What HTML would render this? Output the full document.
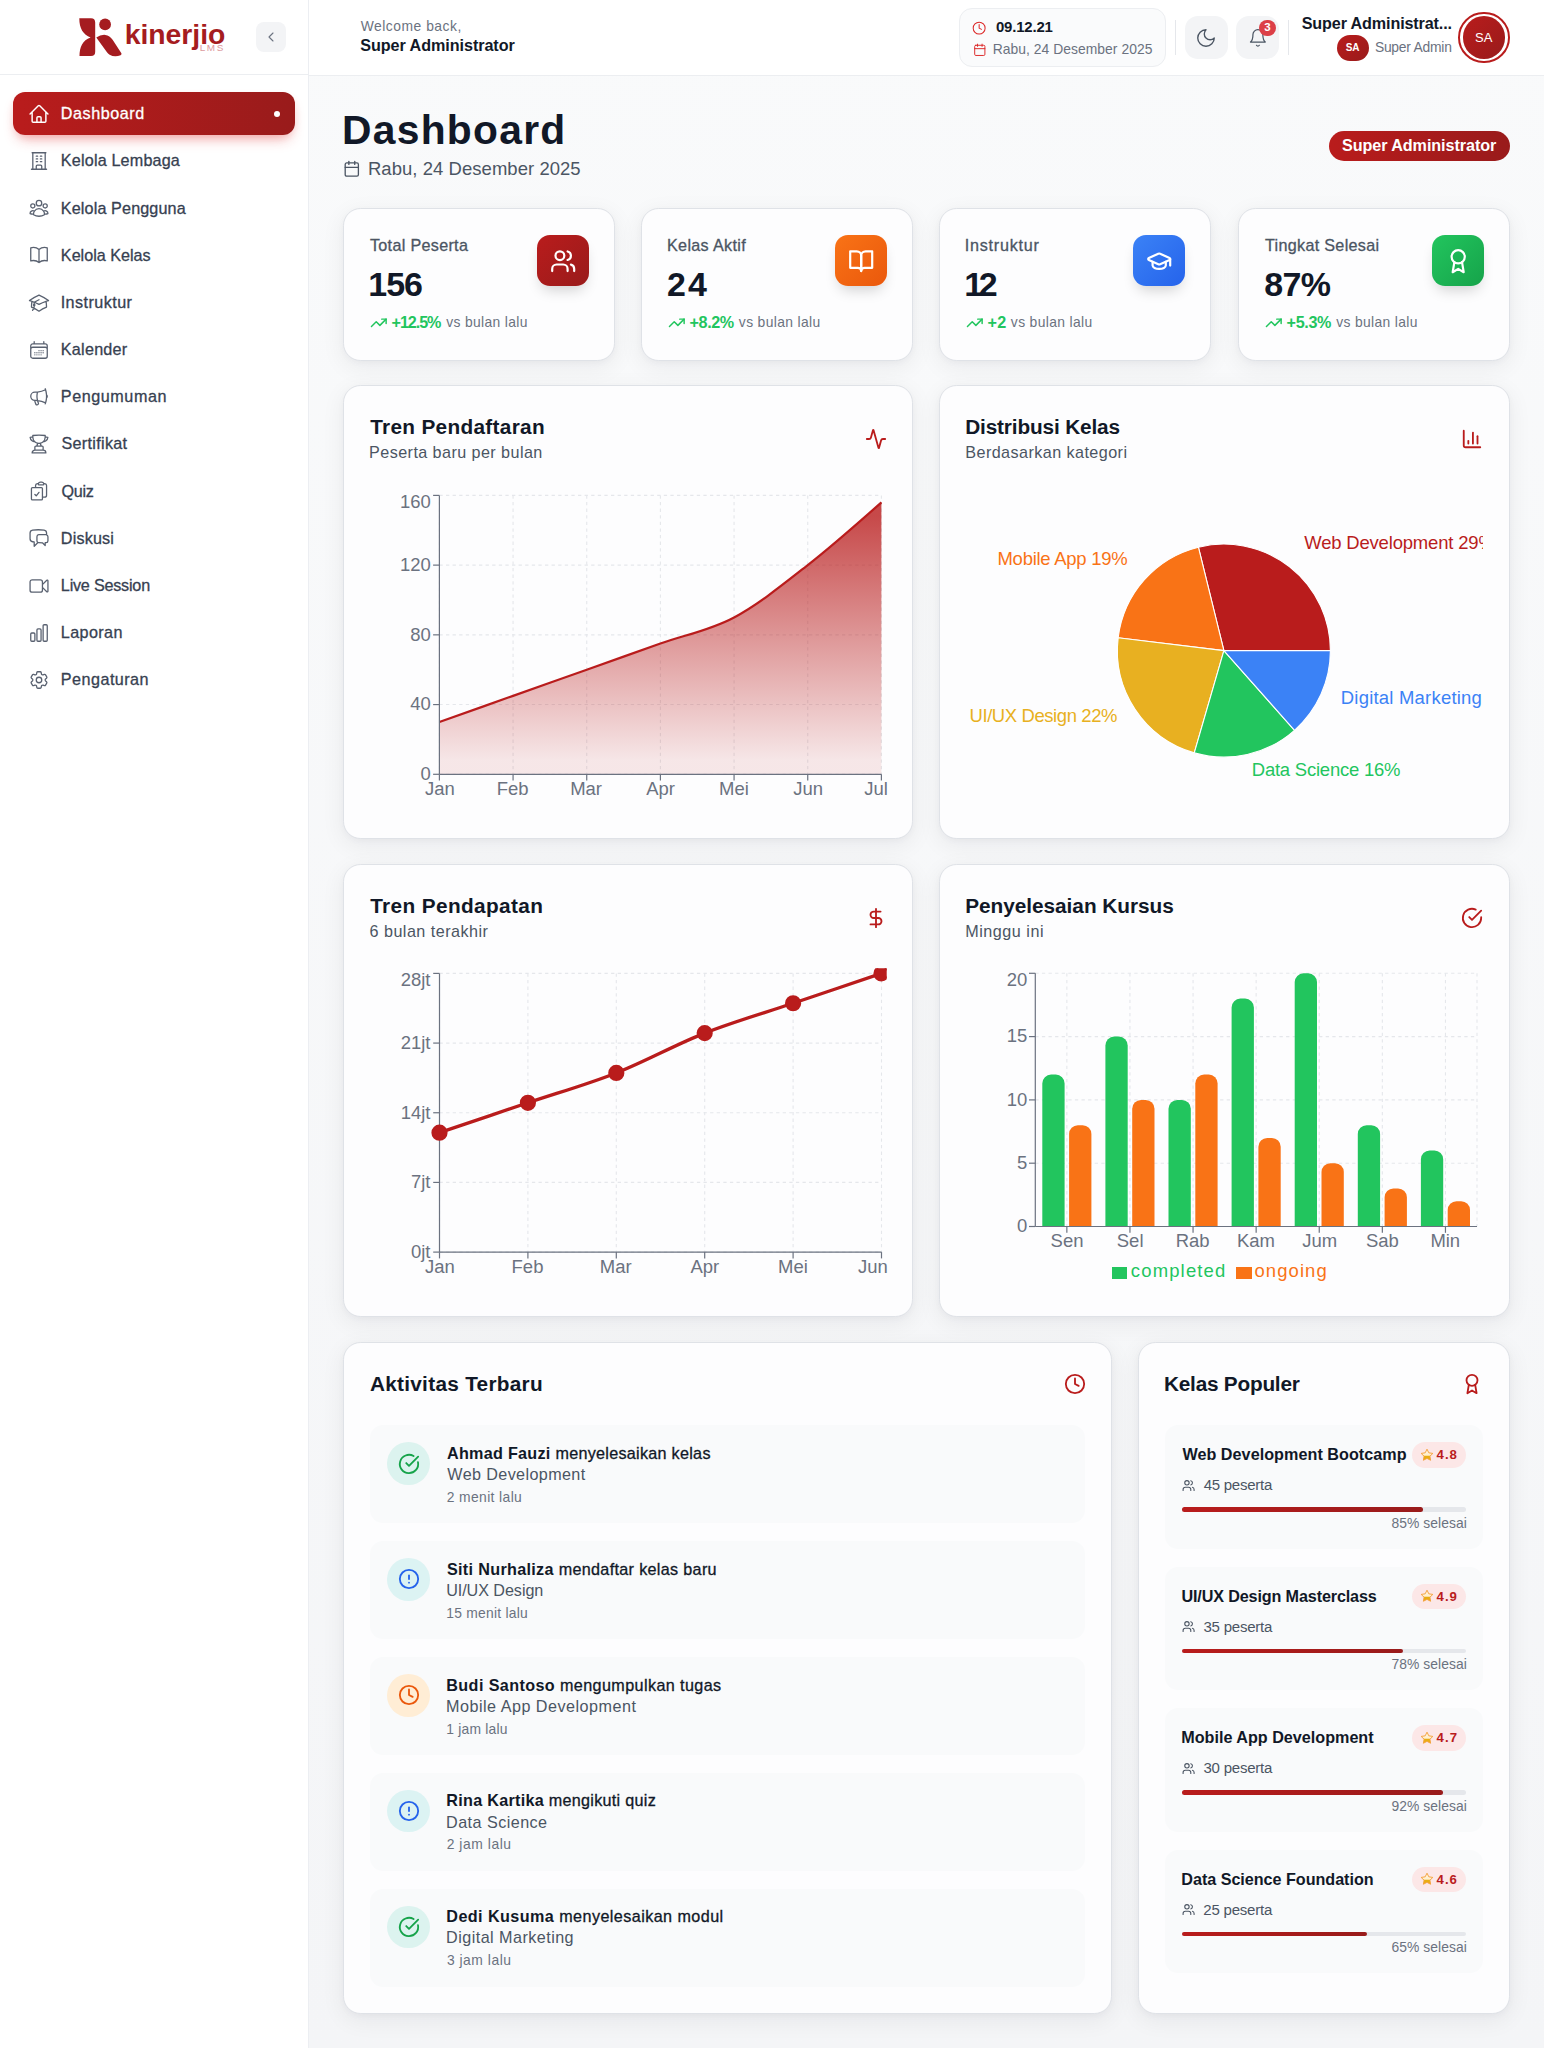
<!DOCTYPE html><html><head><meta charset="utf-8"><title>Dashboard</title><style>*{margin:0;padding:0}
html,body{width:1544px;height:2048px;overflow:hidden;background:linear-gradient(180deg,#f9fafb,#f4f5f7);font-family:"Liberation Sans",sans-serif}
.t{position:absolute;white-space:nowrap;line-height:1}
.r{position:absolute}
.ic{position:absolute;overflow:visible}
svg.ch{position:absolute;left:0;top:0;overflow:visible}
</style></head><body><div class="r" style="left:0.00px;top:0.00px;width:308.00px;height:2048.00px;background:#fff;border-right:1px solid #eceef2;"></div>
<div class="r" style="left:0.00px;top:74.00px;width:308.00px;height:1.00px;background:#eceef1;"></div>
<svg class="ic" style="left:78px;top:16px" width="46" height="42" viewBox="0 0 46 42">
<path fill="#a51c20" d="M1.3 2.2 L13 2.2 Q17.2 2.2 17.2 6.5 L17.2 35.8 Q17.2 40.1 13 40.1 L1.5 40.1 C1.6 31 4.5 24.3 12.6 21.4 C5.2 18.6 1.3 12.5 1.3 2.2 Z"/>
<circle fill="#a51c20" cx="27.1" cy="8.4" r="5.9"/>
<path fill="#a51c20" d="M18.3 21.6 Q22.5 18.5 27.3 18.9 Q31.8 19.5 34.6 23.8 L43.4 37.2 Q44 38.3 42.6 39.3 Q36.6 41.6 31.6 38.8 Q30 37.8 28.6 35.8 Z"/>
</svg>
<div class="t" style="left:124.72px;top:19.93px;font-size:28.35px;font-weight:700;color:#a51c20;letter-spacing:-0.034px;">kinerjio</div>
<div class="t" style="left:199.68px;top:42.68px;font-size:9.97px;font-weight:400;color:#dc9a9d;letter-spacing:1.629px;">LMS</div>
<div class="r" style="left:256.00px;top:22.00px;width:29.80px;height:29.80px;background:#f3f4f6;border-radius:8px;"></div>
<svg class="ic" style="left:262.90px;top:28.90px" width="16.00" height="16.00" viewBox="0 0 24 24" fill="none" stroke="#6b7280" stroke-width="1.6" stroke-linecap="round" stroke-linejoin="round"><path d="m15 18-6-6 6-6"/></svg>
<div class="r" style="left:13.00px;top:92.00px;width:282.00px;height:42.50px;background:linear-gradient(90deg,#b91c1c,#991b1b);border-radius:12px;box-shadow:0 8px 14px -5px rgba(220,38,38,0.40),0 3px 8px -2px rgba(220,38,38,0.12);"></div>
<svg class="ic" style="left:27.50px;top:102.90px" width="22.00" height="22.00" viewBox="0 0 24 24" fill="none" stroke="#fff" stroke-width="1.6" stroke-linecap="round" stroke-linejoin="round"><path d="M2.25 12l8.954-8.955c.44-.439 1.152-.439 1.591 0L21.75 12M4.5 9.75v10.125c0 .621.504 1.125 1.125 1.125H9.75v-4.875c0-.621.504-1.125 1.125-1.125h2.25c.621 0 1.125.504 1.125 1.125V21h4.125c.621 0 1.125-.504 1.125-1.125V9.75M8.25 21h8.25"/></svg>
<div class="t" style="left:60.87px;top:105.30px;font-size:16.17px;font-weight:400;color:#fff;letter-spacing:0.534px;-webkit-text-stroke:0.3px currentColor;">Dashboard</div>
<div class="r" style="left:273.50px;top:110.70px;width:6.00px;height:6.00px;background:#fff;border-radius:50%;"></div>
<svg class="ic" style="left:27.50px;top:150.07px" width="22.00" height="22.00" viewBox="0 0 24 24" fill="none" stroke="#596170" stroke-width="1.4" stroke-linecap="round" stroke-linejoin="round"><path d="M3.75 21h16.5M4.5 3h15M5.25 3v18m13.5-18v18M9 6.75h1.5m-1.5 3h1.5m-1.5 3h1.5m3-6H15m-1.5 3H15m-1.5 3H15M9 21v-3.375c0-.621.504-1.125 1.125-1.125h3.75c.621 0 1.125.504 1.125 1.125V21"/></svg>
<div class="t" style="left:60.87px;top:152.47px;font-size:16.17px;font-weight:400;color:#374151;letter-spacing:0.171px;-webkit-text-stroke:0.3px currentColor;">Kelola Lembaga</div>
<svg class="ic" style="left:27.50px;top:197.24px" width="22.00" height="22.00" viewBox="0 0 24 24" fill="none" stroke="#596170" stroke-width="1.4" stroke-linecap="round" stroke-linejoin="round"><path d="M18 18.72a9.094 9.094 0 003.741-.479 3 3 0 00-4.682-2.72m.94 3.198l.001.031c0 .225-.012.447-.037.666A11.944 11.944 0 0112 21c-2.17 0-4.207-.576-5.963-1.584A6.062 6.062 0 016 18.719m12 0a5.971 5.971 0 00-.941-3.197m0 0A5.995 5.995 0 0012 12.75a5.995 5.995 0 00-5.058 2.772m0 0a3 3 0 00-4.681 2.72 8.986 8.986 0 003.74.477m.94-3.197a5.971 5.971 0 00-.94 3.197M15 6.75a3 3 0 11-6 0 3 3 0 016 0zm6 3a2.25 2.25 0 11-4.5 0 2.25 2.25 0 014.5 0zm-13.5 0a2.25 2.25 0 11-4.5 0 2.25 2.25 0 014.5 0z"/></svg>
<div class="t" style="left:60.87px;top:199.64px;font-size:16.17px;font-weight:400;color:#374151;letter-spacing:0.123px;-webkit-text-stroke:0.3px currentColor;">Kelola Pengguna</div>
<svg class="ic" style="left:27.50px;top:244.41px" width="22.00" height="22.00" viewBox="0 0 24 24" fill="none" stroke="#596170" stroke-width="1.4" stroke-linecap="round" stroke-linejoin="round"><path d="M12 6.042A8.967 8.967 0 006 3.75c-1.052 0-2.062.18-3 .512v14.25A8.987 8.987 0 016 18c2.305 0 4.408.867 6 2.292m0-14.25a8.966 8.966 0 016-2.292c1.052 0 2.062.18 3 .512v14.25A8.987 8.987 0 0018 18a8.967 8.967 0 00-6 2.292m0-14.25v14.25"/></svg>
<div class="t" style="left:60.87px;top:246.81px;font-size:16.17px;font-weight:400;color:#374151;letter-spacing:-0.000px;-webkit-text-stroke:0.3px currentColor;">Kelola Kelas</div>
<svg class="ic" style="left:27.50px;top:291.58px" width="22.00" height="22.00" viewBox="0 0 24 24" fill="none" stroke="#596170" stroke-width="1.4" stroke-linecap="round" stroke-linejoin="round"><path d="M4.26 10.147a60.436 60.436 0 00-.491 6.347A48.627 48.627 0 0112 20.904a48.627 48.627 0 018.232-4.41 60.46 60.46 0 00-.491-6.347m-15.482 0a50.57 50.57 0 00-2.658-.813A59.905 59.905 0 0112 3.493a59.902 59.902 0 0110.399 5.84c-.896.248-1.783.52-2.658.814m-15.482 0A50.697 50.697 0 0112 13.489a50.702 50.702 0 017.74-3.342M6.75 15a.75.75 0 100-1.5.75.75 0 000 1.5zm0 0v-3.675A55.378 55.378 0 0112 8.443m-7.007 11.55A5.981 5.981 0 006.75 15.75v-1.5"/></svg>
<div class="t" style="left:60.70px;top:293.98px;font-size:16.17px;font-weight:400;color:#374151;letter-spacing:0.439px;-webkit-text-stroke:0.3px currentColor;">Instruktur</div>
<svg class="ic" style="left:27.50px;top:338.75px" width="22.00" height="22.00" viewBox="0 0 24 24" fill="none" stroke="#596170" stroke-width="1.4" stroke-linecap="round" stroke-linejoin="round"><path d="M6.75 3v2.25M17.25 3v2.25M3 18.75V7.5a2.25 2.25 0 012.25-2.25h13.5A2.25 2.25 0 0121 7.5v11.25m-18 0A2.25 2.25 0 005.25 21h13.5A2.25 2.25 0 0021 18.75m-18 0v-7.5A2.25 2.25 0 015.25 9h13.5A2.25 2.25 0 0121 11.25v7.5m-9-6h.008v.008H12v-.008zM12 15h.008v.008H12V15zm0 2.25h.008v.008H12v-.008zM9.75 15h.008v.008H9.75V15zm0 2.25h.008v.008H9.75v-.008zM7.5 15h.008v.008H7.5V15zm0 2.25h.008v.008H7.5v-.008zm6.75-4.5h.008v.008h-.008v-.008zm0 2.25h.008v.008h-.008V15zm0 2.25h.008v.008h-.008v-.008zm2.25-4.5h.008v.008H16.5v-.008zm0 2.25h.008v.008H16.5V15z"/></svg>
<div class="t" style="left:60.87px;top:341.15px;font-size:16.17px;font-weight:400;color:#374151;letter-spacing:0.237px;-webkit-text-stroke:0.3px currentColor;">Kalender</div>
<svg class="ic" style="left:27.50px;top:385.92px" width="22.00" height="22.00" viewBox="0 0 24 24" fill="none" stroke="#596170" stroke-width="1.4" stroke-linecap="round" stroke-linejoin="round"><path d="M10.34 15.84c-.688-.06-1.386-.09-2.09-.09H7.5a4.5 4.5 0 110-9h.75c.704 0 1.402-.03 2.09-.09m0 9.18c.253.962.584 1.892.985 2.783.247.55.06 1.21-.463 1.511l-.657.38c-.551.318-1.26.117-1.527-.461a20.845 20.845 0 01-1.44-4.282m3.102.069a18.03 18.03 0 01-.59-4.59c0-1.586.205-3.124.59-4.59m0 9.18a23.848 23.848 0 018.835 2.535M10.34 6.66a23.847 23.847 0 008.835-2.535m0 0A23.74 23.74 0 0018.795 3m.38 1.125a23.91 23.91 0 011.014 5.395m-1.014 8.855c-.118.38-.245.754-.38 1.125m.38-1.125a23.91 23.91 0 001.014-5.395m0-3.46c.495.413.811 1.035.811 1.73 0 .695-.316 1.317-.811 1.73m0-3.46a24.347 24.347 0 010 3.46"/></svg>
<div class="t" style="left:60.87px;top:388.32px;font-size:16.17px;font-weight:400;color:#374151;letter-spacing:0.554px;-webkit-text-stroke:0.3px currentColor;">Pengumuman</div>
<svg class="ic" style="left:27.50px;top:433.09px" width="22.00" height="22.00" viewBox="0 0 24 24" fill="none" stroke="#596170" stroke-width="1.4" stroke-linecap="round" stroke-linejoin="round"><path d="M16.5 18.75h-9m9 0a3 3 0 013 3h-15a3 3 0 013-3m9 0v-3.375c0-.621-.503-1.125-1.125-1.125h-.871M7.5 18.75v-3.375c0-.621.504-1.125 1.125-1.125h.872m5.007 0H9.497m5.007 0a7.454 7.454 0 01-.982-3.172M9.497 14.25a7.454 7.454 0 00.981-3.172M5.25 4.236c-.982.143-1.954.317-2.916.52A6.003 6.003 0 007.73 9.728M5.25 4.236V4.5c0 2.108.966 3.99 2.48 5.228M5.25 4.236V2.721C7.456 2.41 9.71 2.25 12 2.25c2.291 0 4.545.16 6.75.47v1.516M7.73 9.728a6.726 6.726 0 002.748 1.35m8.272-6.842V4.5c0 2.108-.966 3.99-2.48 5.228m2.48-5.492a46.32 46.32 0 012.916.52 6.003 6.003 0 01-5.395 4.972m0 0a6.726 6.726 0 01-2.749 1.35m0 0a6.772 6.772 0 01-3.044 0"/></svg>
<div class="t" style="left:61.47px;top:435.49px;font-size:16.17px;font-weight:400;color:#374151;letter-spacing:0.305px;-webkit-text-stroke:0.3px currentColor;">Sertifikat</div>
<svg class="ic" style="left:27.50px;top:480.26px" width="22.00" height="22.00" viewBox="0 0 24 24" fill="none" stroke="#596170" stroke-width="1.4" stroke-linecap="round" stroke-linejoin="round"><path d="M11.35 3.836c-.065.21-.1.433-.1.664 0 .414.336.75.75.75h4.5a.75.75 0 00.75-.75 2.25 2.25 0 00-.1-.664m-5.8 0A2.251 2.251 0 0113.5 2.25H15c1.012 0 1.867.668 2.15 1.586m-5.8 0c-.376.023-.75.05-1.124.08C9.095 4.01 8.25 4.973 8.25 6.108V8.25m8.9-4.414c.376.023.75.05 1.124.08 1.131.094 1.976 1.057 1.976 2.192V16.5A2.25 2.25 0 0118 18.75h-2.25m-7.5-10.5H4.875c-.621 0-1.125.504-1.125 1.125v11.25c0 .621.504 1.125 1.125 1.125h9.75c.621 0 1.125-.504 1.125-1.125V18.75m-7.5-10.5h6.375c.621 0 1.125.504 1.125 1.125v9.375m-8.25-3l1.5 1.5 3-3.75"/></svg>
<div class="t" style="left:61.43px;top:482.66px;font-size:16.17px;font-weight:400;color:#374151;letter-spacing:-0.284px;-webkit-text-stroke:0.3px currentColor;">Quiz</div>
<svg class="ic" style="left:27.50px;top:527.43px" width="22.00" height="22.00" viewBox="0 0 24 24" fill="none" stroke="#596170" stroke-width="1.4" stroke-linecap="round" stroke-linejoin="round"><path d="M20.25 8.511c.884.284 1.5 1.128 1.5 2.097v4.286c0 1.136-.847 2.1-1.98 2.193-.34.027-.68.052-1.02.072v3.091l-3-3c-1.354 0-2.694-.055-4.02-.163a2.115 2.115 0 01-.825-.242m9.345-8.334a2.126 2.126 0 00-.476-.095 48.64 48.64 0 00-8.048 0c-1.131.094-1.976 1.057-1.976 2.192v4.286c0 .837.46 1.58 1.155 1.951m9.345-8.334V6.637c0-1.621-1.152-3.026-2.76-3.235A48.455 48.455 0 0011.25 3c-2.115 0-4.198.137-6.24.402-1.608.209-2.76 1.614-2.76 3.235v6.226c0 1.621 1.152 3.026 2.76 3.235.577.075 1.157.14 1.74.194V21l4.155-4.155"/></svg>
<div class="t" style="left:60.87px;top:529.83px;font-size:16.17px;font-weight:400;color:#374151;letter-spacing:0.153px;-webkit-text-stroke:0.3px currentColor;">Diskusi</div>
<svg class="ic" style="left:27.50px;top:574.60px" width="22.00" height="22.00" viewBox="0 0 24 24" fill="none" stroke="#596170" stroke-width="1.4" stroke-linecap="round" stroke-linejoin="round"><path d="M15.75 10.5l4.72-4.72a.75.75 0 011.28.53v11.38a.75.75 0 01-1.28.53l-4.72-4.72M4.5 18.75h9a2.25 2.25 0 002.25-2.25v-9a2.25 2.25 0 00-2.25-2.25h-9A2.25 2.25 0 002.25 7.5v9a2.25 2.25 0 002.25 2.25z"/></svg>
<div class="t" style="left:60.87px;top:577.00px;font-size:16.17px;font-weight:400;color:#374151;letter-spacing:-0.213px;-webkit-text-stroke:0.3px currentColor;">Live Session</div>
<svg class="ic" style="left:27.50px;top:621.77px" width="22.00" height="22.00" viewBox="0 0 24 24" fill="none" stroke="#596170" stroke-width="1.4" stroke-linecap="round" stroke-linejoin="round"><path d="M3 13.125C3 12.504 3.504 12 4.125 12h2.25c.621 0 1.125.504 1.125 1.125v6.75C7.5 20.496 6.996 21 6.375 21h-2.25A1.125 1.125 0 013 19.875v-6.75zM9.75 8.625c0-.621.504-1.125 1.125-1.125h2.25c.621 0 1.125.504 1.125 1.125v11.25c0 .621-.504 1.125-1.125 1.125h-2.25a1.125 1.125 0 01-1.125-1.125V8.625zM16.5 4.125c0-.621.504-1.125 1.125-1.125h2.25C20.496 3 21 3.504 21 4.125v15.75c0 .621-.504 1.125-1.125 1.125h-2.25a1.125 1.125 0 01-1.125-1.125V4.125z"/></svg>
<div class="t" style="left:60.87px;top:624.17px;font-size:16.17px;font-weight:400;color:#374151;letter-spacing:0.383px;-webkit-text-stroke:0.3px currentColor;">Laporan</div>
<svg class="ic" style="left:27.50px;top:668.94px" width="22.00" height="22.00" viewBox="0 0 24 24" fill="none" stroke="#596170" stroke-width="1.4" stroke-linecap="round" stroke-linejoin="round"><path d="M9.594 3.94c.09-.542.56-.94 1.11-.94h2.593c.55 0 1.02.398 1.11.94l.213 1.281c.063.374.313.686.645.87.074.04.147.083.22.127.324.196.72.257 1.075.124l1.217-.456a1.125 1.125 0 011.37.49l1.296 2.247a1.125 1.125 0 01-.26 1.431l-1.003.827c-.293.24-.438.613-.431.992a6.759 6.759 0 010 .255c-.007.378.138.75.43.99l1.005.828c.424.35.534.954.26 1.43l-1.298 2.247a1.125 1.125 0 01-1.369.491l-1.217-.456c-.355-.133-.75-.072-1.076.124a6.57 6.57 0 01-.22.128c-.331.183-.581.495-.644.869l-.213 1.28c-.09.543-.56.941-1.11.941h-2.594c-.55 0-1.02-.398-1.11-.94l-.213-1.281c-.062-.374-.312-.686-.644-.87a6.52 6.52 0 01-.22-.127c-.325-.196-.72-.257-1.076-.124l-1.217.456a1.125 1.125 0 01-1.369-.49l-1.297-2.247a1.125 1.125 0 01.26-1.431l1.004-.827c.292-.24.437-.613.43-.992a6.932 6.932 0 010-.255c.007-.378-.138-.75-.43-.99l-1.004-.828a1.125 1.125 0 01-.26-1.43l1.297-2.247a1.125 1.125 0 011.37-.491l1.216.456c.356.133.751.072 1.076-.124.072-.044.146-.087.22-.128.332-.183.582-.495.644-.869l.214-1.281z"/><path d="M15 12a3 3 0 11-6 0 3 3 0 016 0z"/></svg>
<div class="t" style="left:60.87px;top:671.34px;font-size:16.17px;font-weight:400;color:#374151;letter-spacing:0.461px;-webkit-text-stroke:0.3px currentColor;">Pengaturan</div>
<div class="r" style="left:309.00px;top:0.00px;width:1235.00px;height:75.00px;background:#fff;"></div>
<div class="r" style="left:309.00px;top:75.00px;width:1235.00px;height:1.00px;background:#eceef1;"></div>
<div class="t" style="left:360.63px;top:20.23px;font-size:13.86px;font-weight:400;color:#6b7280;letter-spacing:0.519px;">Welcome back,</div>
<div class="t" style="left:360.26px;top:37.30px;font-size:16.17px;font-weight:700;color:#111827;letter-spacing:-0.059px;">Super Administrator</div>
<div class="r" style="left:958.60px;top:7.90px;width:207.90px;height:59.40px;background:#fafbfc;border:1px solid #eceef1;border-radius:13px;box-sizing:border-box;"></div>
<svg class="ic" style="left:972.15px;top:20.85px" width="14.30" height="14.30" viewBox="0 0 24 24" fill="none" stroke="#dc2626" stroke-width="1.7" stroke-linecap="round" stroke-linejoin="round"><circle cx="12" cy="12" r="10"/><polyline points="12 6 12 12 16 14"/></svg>
<div class="t" style="left:995.90px;top:20.43px;font-size:14.94px;font-weight:700;color:#111827;letter-spacing:-0.169px;">09.12.21</div>
<svg class="ic" style="left:972.50px;top:42.70px" width="13.60" height="13.60" viewBox="0 0 24 24" fill="none" stroke="#dc2626" stroke-width="1.7" stroke-linecap="round" stroke-linejoin="round"><rect width="18" height="18" x="3" y="4" rx="2" ry="2"/><line x1="16" x2="16" y1="2" y2="6"/><line x1="8" x2="8" y1="2" y2="6"/><line x1="3" x2="21" y1="10" y2="10"/></svg>
<div class="t" style="left:992.66px;top:42.83px;font-size:13.86px;font-weight:400;color:#6b7280;letter-spacing:0.048px;">Rabu, 24 Desember 2025</div>
<div class="r" style="left:1175.10px;top:20.00px;width:1.00px;height:34.50px;background:#e5e7eb;"></div>
<div class="r" style="left:1185.00px;top:15.90px;width:42.80px;height:43.10px;background:#f3f4f6;border-radius:13px;"></div>
<svg class="ic" style="left:1195.40px;top:26.50px" width="22.00" height="22.00" viewBox="0 0 24 24" fill="none" stroke="#4b5563" stroke-width="1.5" stroke-linecap="round" stroke-linejoin="round"><path d="M12 3a6 6 0 0 0 9 9 9 9 0 1 1-9-9Z"/></svg>
<div class="r" style="left:1236.20px;top:15.90px;width:42.80px;height:43.10px;background:#f3f4f6;border-radius:13px;"></div>
<svg class="ic" style="left:1247.70px;top:27.60px" width="19.80" height="19.80" viewBox="0 0 24 24" fill="none" stroke="#4b5563" stroke-width="1.5" stroke-linecap="round" stroke-linejoin="round"><path d="M6 8a6 6 0 0 1 12 0c0 7 3 9 3 9H3s3-2 3-9"/><path d="M10.3 21a1.94 1.94 0 0 0 3.4 0"/></svg>
<div class="r" style="left:1259.30px;top:19.50px;width:16.50px;height:16.50px;background:#dc3f47;border-radius:50%;"></div>
<div class="t" style="left:1264.37px;top:22.36px;font-size:11.55px;font-weight:700;color:#fff;letter-spacing:0.000px;">3</div>
<div class="r" style="left:1288.00px;top:20.00px;width:1.00px;height:34.50px;background:#e5e7eb;"></div>
<div class="t" style="left:1301.66px;top:15.10px;font-size:16.17px;font-weight:700;color:#111827;letter-spacing:-0.132px;">Super Administrat...</div>
<div class="r" style="left:1337.10px;top:35.30px;width:31.70px;height:25.40px;background:linear-gradient(135deg,#b91c1c,#991b1b);border-radius:13px;"></div>
<div class="t" style="left:1345.65px;top:43.45px;font-size:10.0px;font-weight:700;color:#fff;letter-spacing:0.000px;">SA</div>
<div class="t" style="left:1374.88px;top:41.23px;font-size:13.86px;font-weight:400;color:#6b7280;letter-spacing:-0.236px;">Super Admin</div>
<div class="r" style="left:1458.30px;top:12.00px;width:51.30px;height:51.30px;border:2.4px solid #b91c1c;border-radius:50%;box-sizing:border-box;background:#fff;"></div>
<div class="r" style="left:1462.60px;top:16.30px;width:42.70px;height:42.70px;background:linear-gradient(135deg,#b91c1c,#991b1b);border-radius:50%;"></div>
<div class="t" style="left:1475.05px;top:31.44px;font-size:13.0px;font-weight:400;color:#fff;letter-spacing:0.000px;">SA</div>
<div class="t" style="left:342.05px;top:110.04px;font-size:40.79px;font-weight:700;color:#111827;letter-spacing:1.272px;">Dashboard</div>
<svg class="ic" style="left:342.80px;top:160.20px" width="17.60" height="17.60" viewBox="0 0 24 24" fill="none" stroke="#4b5563" stroke-width="1.8" stroke-linecap="round" stroke-linejoin="round"><rect width="18" height="18" x="3" y="4" rx="2" ry="2"/><line x1="16" x2="16" y1="2" y2="6"/><line x1="8" x2="8" y1="2" y2="6"/><line x1="3" x2="21" y1="10" y2="10"/></svg>
<div class="t" style="left:367.98px;top:160.27px;font-size:18.48px;font-weight:400;color:#4b5563;letter-spacing:0.056px;">Rabu, 24 Desember 2025</div>
<div class="r" style="left:1329.00px;top:131.10px;width:180.60px;height:29.60px;background:linear-gradient(90deg,#b91c1c,#991b1b);border-radius:15px;"></div>
<div class="t" style="left:1341.96px;top:137.40px;font-size:16.17px;font-weight:700;color:#fff;letter-spacing:-0.071px;">Super Administrator</div>
<div class="r" style="left:343.00px;top:208.00px;width:272.00px;height:153.00px;background:#fdfdfe;border:1px solid #dfe2e7;border-radius:17.6px;box-shadow:0 6px 22px 2px rgba(17,24,39,0.055),0 2px 6px rgba(17,24,39,0.03);box-sizing:border-box;"></div>
<div class="t" style="left:369.94px;top:237.20px;font-size:16.17px;font-weight:400;color:#4b5563;letter-spacing:0.306px;-webkit-text-stroke:0.3px currentColor;">Total Peserta</div>
<div class="t" style="left:368.18px;top:266.72px;font-size:33.99px;font-weight:700;color:#111827;letter-spacing:-0.932px;">156</div>
<svg class="ic" style="left:369.50px;top:313.50px" width="17.60" height="17.60" viewBox="0 0 24 24" fill="none" stroke="#22c55e" stroke-width="2" stroke-linecap="round" stroke-linejoin="round"><polyline points="22 7 13.5 15.5 8.5 10.5 2 17"/><polyline points="16 7 22 7 22 13"/></svg>
<div class="t" style="left:391.61px;top:314.20px;font-size:16.17px;font-weight:700;color:#22c55e;letter-spacing:-1.094px;">+12.5%</div>
<div class="t" style="left:446.17px;top:316.13px;font-size:13.86px;font-weight:400;color:#6b7280;letter-spacing:0.359px;">vs bulan lalu</div>
<div class="r" style="left:537.30px;top:235.10px;width:51.30px;height:51.30px;background:linear-gradient(135deg,#b91c1c,#991b1b);border-radius:13px;box-shadow:0 8px 14px -4px rgba(0,0,0,0.18);"></div>
<svg class="ic" style="left:549.75px;top:247.55px" width="26.40" height="26.40" viewBox="0 0 24 24" fill="none" stroke="#fff" stroke-width="2" stroke-linecap="round" stroke-linejoin="round"><path d="M16 21v-2a4 4 0 0 0-4-4H6a4 4 0 0 0-4 4v2"/><circle cx="9" cy="7" r="4"/><path d="M22 21v-2a4 4 0 0 0-3-3.87"/><path d="M16 3.13a4 4 0 0 1 0 7.75"/></svg>
<div class="r" style="left:641.00px;top:208.00px;width:272.00px;height:153.00px;background:#fdfdfe;border:1px solid #dfe2e7;border-radius:17.6px;box-shadow:0 6px 22px 2px rgba(17,24,39,0.055),0 2px 6px rgba(17,24,39,0.03);box-sizing:border-box;"></div>
<div class="t" style="left:666.97px;top:237.20px;font-size:16.17px;font-weight:400;color:#4b5563;letter-spacing:0.328px;-webkit-text-stroke:0.3px currentColor;">Kelas Aktif</div>
<div class="t" style="left:667.11px;top:266.72px;font-size:33.99px;font-weight:700;color:#111827;letter-spacing:2.046px;">24</div>
<svg class="ic" style="left:667.50px;top:313.50px" width="17.60" height="17.60" viewBox="0 0 24 24" fill="none" stroke="#22c55e" stroke-width="2" stroke-linecap="round" stroke-linejoin="round"><polyline points="22 7 13.5 15.5 8.5 10.5 2 17"/><polyline points="16 7 22 7 22 13"/></svg>
<div class="t" style="left:689.61px;top:314.20px;font-size:16.17px;font-weight:700;color:#22c55e;letter-spacing:-0.449px;">+8.2%</div>
<div class="t" style="left:738.87px;top:316.13px;font-size:13.86px;font-weight:400;color:#6b7280;letter-spacing:0.351px;">vs bulan lalu</div>
<div class="r" style="left:835.30px;top:235.10px;width:51.30px;height:51.30px;background:linear-gradient(135deg,#f97316,#ea580c);border-radius:13px;box-shadow:0 8px 14px -4px rgba(0,0,0,0.18);"></div>
<svg class="ic" style="left:847.75px;top:247.55px" width="26.40" height="26.40" viewBox="0 0 24 24" fill="none" stroke="#fff" stroke-width="2" stroke-linecap="round" stroke-linejoin="round"><path d="M2 3h6a4 4 0 0 1 4 4v14a3 3 0 0 0-3-3H2z"/><path d="M22 3h-6a4 4 0 0 0-4 4v14a3 3 0 0 1 3-3h7z"/></svg>
<div class="r" style="left:939.00px;top:208.00px;width:272.00px;height:153.00px;background:#fdfdfe;border:1px solid #dfe2e7;border-radius:17.6px;box-shadow:0 6px 22px 2px rgba(17,24,39,0.055),0 2px 6px rgba(17,24,39,0.03);box-sizing:border-box;"></div>
<div class="t" style="left:964.80px;top:237.20px;font-size:16.17px;font-weight:400;color:#4b5563;letter-spacing:0.739px;-webkit-text-stroke:0.3px currentColor;">Instruktur</div>
<div class="t" style="left:964.18px;top:266.72px;font-size:33.99px;font-weight:700;color:#111827;letter-spacing:-4.430px;">12</div>
<svg class="ic" style="left:965.50px;top:313.50px" width="17.60" height="17.60" viewBox="0 0 24 24" fill="none" stroke="#22c55e" stroke-width="2" stroke-linecap="round" stroke-linejoin="round"><polyline points="22 7 13.5 15.5 8.5 10.5 2 17"/><polyline points="16 7 22 7 22 13"/></svg>
<div class="t" style="left:987.61px;top:314.20px;font-size:16.17px;font-weight:700;color:#22c55e;letter-spacing:0.260px;">+2</div>
<div class="t" style="left:1010.87px;top:316.13px;font-size:13.86px;font-weight:400;color:#6b7280;letter-spacing:0.351px;">vs bulan lalu</div>
<div class="r" style="left:1133.30px;top:235.10px;width:51.30px;height:51.30px;background:linear-gradient(135deg,#3b82f6,#2563eb);border-radius:13px;box-shadow:0 8px 14px -4px rgba(0,0,0,0.18);"></div>
<svg class="ic" style="left:1145.75px;top:247.55px" width="26.40" height="26.40" viewBox="0 0 24 24" fill="none" stroke="#fff" stroke-width="2" stroke-linecap="round" stroke-linejoin="round"><path d="M21.42 10.922a1 1 0 0 0-.019-1.838L12.83 5.18a2 2 0 0 0-1.66 0L2.6 9.08a1 1 0 0 0 0 1.832l8.57 3.908a2 2 0 0 0 1.66 0z"/><path d="M22 10v6"/><path d="M6 12.5V16a6 3 0 0 0 12 0v-3.5"/></svg>
<div class="r" style="left:1238.00px;top:208.00px;width:272.00px;height:153.00px;background:#fdfdfe;border:1px solid #dfe2e7;border-radius:17.6px;box-shadow:0 6px 22px 2px rgba(17,24,39,0.055),0 2px 6px rgba(17,24,39,0.03);box-sizing:border-box;"></div>
<div class="t" style="left:1264.94px;top:237.20px;font-size:16.17px;font-weight:400;color:#4b5563;letter-spacing:0.307px;-webkit-text-stroke:0.3px currentColor;">Tingkat Selesai</div>
<div class="t" style="left:1264.28px;top:266.72px;font-size:33.99px;font-weight:700;color:#111827;letter-spacing:-0.705px;">87%</div>
<svg class="ic" style="left:1264.50px;top:313.50px" width="17.60" height="17.60" viewBox="0 0 24 24" fill="none" stroke="#22c55e" stroke-width="2" stroke-linecap="round" stroke-linejoin="round"><polyline points="22 7 13.5 15.5 8.5 10.5 2 17"/><polyline points="16 7 22 7 22 13"/></svg>
<div class="t" style="left:1286.61px;top:314.20px;font-size:16.17px;font-weight:700;color:#22c55e;letter-spacing:-0.374px;">+5.3%</div>
<div class="t" style="left:1336.17px;top:316.13px;font-size:13.86px;font-weight:400;color:#6b7280;letter-spacing:0.351px;">vs bulan lalu</div>
<div class="r" style="left:1432.30px;top:235.10px;width:51.30px;height:51.30px;background:linear-gradient(135deg,#22c55e,#16a34a);border-radius:13px;box-shadow:0 8px 14px -4px rgba(0,0,0,0.18);"></div>
<svg class="ic" style="left:1444.75px;top:247.55px" width="26.40" height="26.40" viewBox="0 0 24 24" fill="none" stroke="#fff" stroke-width="2" stroke-linecap="round" stroke-linejoin="round"><circle cx="12" cy="8" r="6"/><path d="M15.477 12.89 17 22l-5-3-5 3 1.523-9.11"/></svg>
<div class="r" style="left:343.00px;top:385.00px;width:570.00px;height:454.00px;background:#fdfdfe;border:1px solid #dfe2e7;border-radius:17.6px;box-shadow:0 6px 22px 2px rgba(17,24,39,0.055),0 2px 6px rgba(17,24,39,0.03);box-sizing:border-box;"></div>
<div class="t" style="left:370.19px;top:417.14px;font-size:20.79px;font-weight:700;color:#111827;letter-spacing:0.310px;">Tren Pendaftaran</div>
<div class="t" style="left:369.07px;top:444.00px;font-size:16.17px;font-weight:400;color:#4b5563;letter-spacing:0.422px;">Peserta baru per bulan</div>
<svg class="ic" style="left:865.00px;top:427.50px" width="22.00" height="22.00" viewBox="0 0 24 24" fill="none" stroke="#b91c1c" stroke-width="2" stroke-linecap="round" stroke-linejoin="round"><path d="M22 12h-2.48a2 2 0 0 0-1.93 1.46l-2.35 8.36a.25.25 0 0 1-.48 0L9.24 2.18a.25.25 0 0 0-.48 0l-2.35 8.36A2 2 0 0 1 4.49 12H2"/></svg>
<div class="r" style="left:939.00px;top:385.00px;width:571.00px;height:454.00px;background:#fdfdfe;border:1px solid #dfe2e7;border-radius:17.6px;box-shadow:0 6px 22px 2px rgba(17,24,39,0.055),0 2px 6px rgba(17,24,39,0.03);box-sizing:border-box;"></div>
<div class="t" style="left:965.20px;top:417.14px;font-size:20.79px;font-weight:700;color:#111827;letter-spacing:-0.146px;">Distribusi Kelas</div>
<div class="t" style="left:965.27px;top:444.00px;font-size:16.17px;font-weight:400;color:#4b5563;letter-spacing:0.428px;">Berdasarkan kategori</div>
<svg class="ic" style="left:1461.00px;top:427.50px" width="22.00" height="22.00" viewBox="0 0 24 24" fill="none" stroke="#b91c1c" stroke-width="2" stroke-linecap="round" stroke-linejoin="round"><path d="M3 3v16a2 2 0 0 0 2 2h16"/><path d="M18 17V9"/><path d="M13 17V5"/><path d="M8 17v-3"/></svg>
<div class="r" style="left:343.00px;top:864.00px;width:570.00px;height:453.00px;background:#fdfdfe;border:1px solid #dfe2e7;border-radius:17.6px;box-shadow:0 6px 22px 2px rgba(17,24,39,0.055),0 2px 6px rgba(17,24,39,0.03);box-sizing:border-box;"></div>
<div class="t" style="left:370.19px;top:896.44px;font-size:20.79px;font-weight:700;color:#111827;letter-spacing:0.381px;">Tren Pendapatan</div>
<div class="t" style="left:369.59px;top:923.30px;font-size:16.17px;font-weight:400;color:#4b5563;letter-spacing:0.460px;">6 bulan terakhir</div>
<svg class="ic" style="left:865.00px;top:906.50px" width="22.00" height="22.00" viewBox="0 0 24 24" fill="none" stroke="#b91c1c" stroke-width="2" stroke-linecap="round" stroke-linejoin="round"><line x1="12" x2="12" y1="2" y2="22"/><path d="M17 5H9.5a3.5 3.5 0 0 0 0 7h5a3.5 3.5 0 0 1 0 7H6"/></svg>
<div class="r" style="left:939.00px;top:864.00px;width:571.00px;height:453.00px;background:#fdfdfe;border:1px solid #dfe2e7;border-radius:17.6px;box-shadow:0 6px 22px 2px rgba(17,24,39,0.055),0 2px 6px rgba(17,24,39,0.03);box-sizing:border-box;"></div>
<div class="t" style="left:965.20px;top:896.44px;font-size:20.79px;font-weight:700;color:#111827;letter-spacing:-0.028px;">Penyelesaian Kursus</div>
<div class="t" style="left:965.27px;top:923.30px;font-size:16.17px;font-weight:400;color:#4b5563;letter-spacing:0.515px;">Minggu ini</div>
<svg class="ic" style="left:1461.00px;top:906.50px" width="22.00" height="22.00" viewBox="0 0 24 24" fill="none" stroke="#b91c1c" stroke-width="2" stroke-linecap="round" stroke-linejoin="round"><path d="M22 11.08V12a10 10 0 1 1-5.93-9.14"/><polyline points="22 4 12 14.01 9 11.01"/></svg>
<svg class="ch" width="1544" height="2048" viewBox="0 0 1544 2048" style="left:0;top:0"><defs><linearGradient id="ga" x1="0" y1="0" x2="0" y2="1"><stop offset="5%" stop-color="#b91c1c" stop-opacity="0.8"/><stop offset="95%" stop-color="#b91c1c" stop-opacity="0.1"/></linearGradient></defs>
<g stroke="#e5e7eb" stroke-width="1.1" stroke-dasharray="3.3 3.3"><line x1="439.4" y1="495.40" x2="881.4" y2="495.40" /><line x1="439.4" y1="565.12" x2="881.4" y2="565.12" /><line x1="439.4" y1="634.85" x2="881.4" y2="634.85" /><line x1="439.4" y1="704.57" x2="881.4" y2="704.57" /><line x1="439.4" y1="774.30" x2="881.4" y2="774.30" /><line x1="439.40" y1="495.4" x2="439.40" y2="774.3" /><line x1="513.07" y1="495.4" x2="513.07" y2="774.3" /><line x1="586.73" y1="495.4" x2="586.73" y2="774.3" /><line x1="660.40" y1="495.4" x2="660.40" y2="774.3" /><line x1="734.07" y1="495.4" x2="734.07" y2="774.3" /><line x1="807.73" y1="495.4" x2="807.73" y2="774.3" /><line x1="881.40" y1="495.4" x2="881.40" y2="774.3" /></g>
<path d="M439.40,722.01C463.96,713.29,488.51,704.57,513.07,695.86C537.62,687.14,562.18,678.43,586.73,669.71C611.29,661.00,635.84,652.28,660.40,643.57C684.96,634.85,709.51,630.49,734.07,617.42C758.62,604.35,783.18,584.30,807.73,565.12C832.29,545.95,856.84,524.16,881.40,502.37L881.4,774.3L439.4,774.3Z" fill="url(#ga)"/>
<path d="M439.40,722.01C463.96,713.29,488.51,704.57,513.07,695.86C537.62,687.14,562.18,678.43,586.73,669.71C611.29,661.00,635.84,652.28,660.40,643.57C684.96,634.85,709.51,630.49,734.07,617.42C758.62,604.35,783.18,584.30,807.73,565.12C832.29,545.95,856.84,524.16,881.40,502.37" fill="none" stroke="#b91c1c" stroke-width="2.2"/>
<g stroke="#6b7280" stroke-width="1.2"><line x1="439.4" y1="495.4" x2="439.4" y2="774.3"/><line x1="439.4" y1="774.3" x2="881.4" y2="774.3"/><line x1="433.09999999999997" y1="495.40" x2="439.4" y2="495.40"/><line x1="433.09999999999997" y1="565.12" x2="439.4" y2="565.12"/><line x1="433.09999999999997" y1="634.85" x2="439.4" y2="634.85"/><line x1="433.09999999999997" y1="704.57" x2="439.4" y2="704.57"/><line x1="433.09999999999997" y1="774.30" x2="439.4" y2="774.30"/><line x1="439.40" y1="774.3" x2="439.40" y2="780.5999999999999"/><line x1="513.07" y1="774.3" x2="513.07" y2="780.5999999999999"/><line x1="586.73" y1="774.3" x2="586.73" y2="780.5999999999999"/><line x1="660.40" y1="774.3" x2="660.40" y2="780.5999999999999"/><line x1="734.07" y1="774.3" x2="734.07" y2="780.5999999999999"/><line x1="807.73" y1="774.3" x2="807.73" y2="780.5999999999999"/><line x1="881.40" y1="774.3" x2="881.40" y2="780.5999999999999"/></g>
</svg>
<div class="t" style="left:399.88px;top:493.17px;font-size:18.48px;font-weight:400;color:#6b7280;letter-spacing:0.000px;">160</div>
<div class="t" style="left:399.88px;top:555.89px;font-size:18.48px;font-weight:400;color:#6b7280;letter-spacing:0.000px;">120</div>
<div class="t" style="left:410.18px;top:625.62px;font-size:18.48px;font-weight:400;color:#6b7280;letter-spacing:0.000px;">80</div>
<div class="t" style="left:410.18px;top:695.34px;font-size:18.48px;font-weight:400;color:#6b7280;letter-spacing:0.000px;">40</div>
<div class="t" style="left:420.44px;top:765.07px;font-size:18.48px;font-weight:400;color:#6b7280;letter-spacing:0.000px;">0</div>
<div class="t" style="left:424.96px;top:780.07px;font-size:18.48px;font-weight:400;color:#6b7280;letter-spacing:0.000px;">Jan</div>
<div class="t" style="left:496.76px;top:780.07px;font-size:18.48px;font-weight:400;color:#6b7280;letter-spacing:0.000px;">Feb</div>
<div class="t" style="left:570.19px;top:780.07px;font-size:18.48px;font-weight:400;color:#6b7280;letter-spacing:0.000px;">Mar</div>
<div class="t" style="left:646.15px;top:780.07px;font-size:18.48px;font-weight:400;color:#6b7280;letter-spacing:0.000px;">Apr</div>
<div class="t" style="left:719.03px;top:780.07px;font-size:18.48px;font-weight:400;color:#6b7280;letter-spacing:0.000px;">Mei</div>
<div class="t" style="left:793.30px;top:780.07px;font-size:18.48px;font-weight:400;color:#6b7280;letter-spacing:0.000px;">Jun</div>
<div class="t" style="left:864.24px;top:780.07px;font-size:18.48px;font-weight:400;color:#6b7280;letter-spacing:0.000px;">Jul</div>
<svg class="ch" width="1544" height="2048" viewBox="0 0 1544 2048" style="left:0;top:0">
<path d="M1223.9,650.6L1330.40,650.60A106.5,106.5 0 0 0 1198.41,547.19Z" fill="#b91c1c" stroke="#fff" stroke-width="1.1"/><path d="M1223.9,650.6L1198.41,547.19A106.5,106.5 0 0 0 1118.18,637.76Z" fill="#f97316" stroke="#fff" stroke-width="1.1"/><path d="M1223.9,650.6L1118.18,637.76A106.5,106.5 0 0 0 1194.27,752.90Z" fill="#e8b021" stroke="#fff" stroke-width="1.1"/><path d="M1223.9,650.6L1194.27,752.90A106.5,106.5 0 0 0 1294.52,730.32Z" fill="#22c55e" stroke="#fff" stroke-width="1.1"/><path d="M1223.9,650.6L1294.52,730.32A106.5,106.5 0 0 0 1330.40,650.60Z" fill="#3b82f6" stroke="#fff" stroke-width="1.1"/>
</svg>
<div class="r" style="left:965.7px;top:480px;width:517px;height:340px;overflow:hidden">
<div style="position:absolute;left:-965.7px;top:-480px;width:1544px;height:900px">
<div class="t" style="left:1304.21px;top:534.37px;font-size:18.48px;font-weight:400;color:#b91c1c;letter-spacing:-0.171px;">Web Development 29%</div>
<div class="t" style="left:997.48px;top:549.87px;font-size:18.48px;font-weight:400;color:#f97316;letter-spacing:-0.246px;">Mobile App 19%</div>
<div class="t" style="left:969.47px;top:707.27px;font-size:18.48px;font-weight:400;color:#e8b021;letter-spacing:-0.400px;">UI/UX Design 22%</div>
<div class="t" style="left:1340.78px;top:688.57px;font-size:18.48px;font-weight:400;color:#3b82f6;letter-spacing:0.220px;">Digital Marketing 14%</div>
<div class="t" style="left:1251.78px;top:761.37px;font-size:18.48px;font-weight:400;color:#22c55e;letter-spacing:-0.212px;">Data Science 16%</div>
</div></div>
<svg class="ch" width="1544" height="2048" viewBox="0 0 1544 2048" style="left:0;top:0"><defs><clipPath id="c3"><rect x="400" y="968.2" width="486.7" height="300"/></clipPath></defs>
<g stroke="#e5e7eb" stroke-width="1.1" stroke-dasharray="3.3 3.3"><line x1="439.5" y1="973.40" x2="881.5" y2="973.40" /><line x1="439.5" y1="1043.08" x2="881.5" y2="1043.08" /><line x1="439.5" y1="1112.75" x2="881.5" y2="1112.75" /><line x1="439.5" y1="1182.42" x2="881.5" y2="1182.42" /><line x1="439.5" y1="1252.10" x2="881.5" y2="1252.10" /><line x1="439.50" y1="973.4" x2="439.50" y2="1252.1" /><line x1="527.90" y1="973.4" x2="527.90" y2="1252.1" /><line x1="616.30" y1="973.4" x2="616.30" y2="1252.1" /><line x1="704.70" y1="973.4" x2="704.70" y2="1252.1" /><line x1="793.10" y1="973.4" x2="793.10" y2="1252.1" /><line x1="881.50" y1="973.4" x2="881.50" y2="1252.1" /></g>
<g stroke="#6b7280" stroke-width="1.2"><line x1="439.5" y1="973.4" x2="439.5" y2="1252.1"/><line x1="439.5" y1="1252.1" x2="881.5" y2="1252.1"/><line x1="433.2" y1="973.40" x2="439.5" y2="973.40"/><line x1="433.2" y1="1043.08" x2="439.5" y2="1043.08"/><line x1="433.2" y1="1112.75" x2="439.5" y2="1112.75"/><line x1="433.2" y1="1182.42" x2="439.5" y2="1182.42"/><line x1="433.2" y1="1252.10" x2="439.5" y2="1252.10"/><line x1="439.50" y1="1252.1" x2="439.50" y2="1258.3999999999999"/><line x1="527.90" y1="1252.1" x2="527.90" y2="1258.3999999999999"/><line x1="616.30" y1="1252.1" x2="616.30" y2="1258.3999999999999"/><line x1="704.70" y1="1252.1" x2="704.70" y2="1258.3999999999999"/><line x1="793.10" y1="1252.1" x2="793.10" y2="1258.3999999999999"/><line x1="881.50" y1="1252.1" x2="881.50" y2="1258.3999999999999"/></g>
<g clip-path="url(#c3)"><path d="M439.50,1132.66C468.97,1122.70,498.43,1112.75,527.90,1102.80C557.37,1092.84,586.83,1084.55,616.30,1072.94C645.77,1061.32,675.23,1044.73,704.70,1033.12C734.17,1021.51,763.63,1013.21,793.10,1003.26C822.57,993.31,852.03,983.35,881.50,973.40" fill="none" stroke="#b91c1c" stroke-width="3.3"/><circle cx="439.50" cy="1132.66" r="7" fill="#b91c1c" stroke="#b91c1c" stroke-width="2.2"/><circle cx="527.90" cy="1102.80" r="7" fill="#b91c1c" stroke="#b91c1c" stroke-width="2.2"/><circle cx="616.30" cy="1072.94" r="7" fill="#b91c1c" stroke="#b91c1c" stroke-width="2.2"/><circle cx="704.70" cy="1033.12" r="7" fill="#b91c1c" stroke="#b91c1c" stroke-width="2.2"/><circle cx="793.10" cy="1003.26" r="7" fill="#b91c1c" stroke="#b91c1c" stroke-width="2.2"/><circle cx="881.50" cy="973.40" r="7" fill="#b91c1c" stroke="#b91c1c" stroke-width="2.2"/></g>
</svg>
<div class="t" style="left:400.64px;top:971.17px;font-size:18.48px;font-weight:400;color:#6b7280;letter-spacing:0.000px;">28jt</div>
<div class="t" style="left:400.64px;top:1033.84px;font-size:18.48px;font-weight:400;color:#6b7280;letter-spacing:0.000px;">21jt</div>
<div class="t" style="left:400.64px;top:1103.52px;font-size:18.48px;font-weight:400;color:#6b7280;letter-spacing:0.000px;">14jt</div>
<div class="t" style="left:410.94px;top:1173.19px;font-size:18.48px;font-weight:400;color:#6b7280;letter-spacing:0.000px;">7jt</div>
<div class="t" style="left:410.94px;top:1242.87px;font-size:18.48px;font-weight:400;color:#6b7280;letter-spacing:0.000px;">0jt</div>
<div class="t" style="left:425.06px;top:1257.87px;font-size:18.48px;font-weight:400;color:#6b7280;letter-spacing:0.000px;">Jan</div>
<div class="t" style="left:511.59px;top:1257.87px;font-size:18.48px;font-weight:400;color:#6b7280;letter-spacing:0.000px;">Feb</div>
<div class="t" style="left:599.76px;top:1257.87px;font-size:18.48px;font-weight:400;color:#6b7280;letter-spacing:0.000px;">Mar</div>
<div class="t" style="left:690.45px;top:1257.87px;font-size:18.48px;font-weight:400;color:#6b7280;letter-spacing:0.000px;">Apr</div>
<div class="t" style="left:778.06px;top:1257.87px;font-size:18.48px;font-weight:400;color:#6b7280;letter-spacing:0.000px;">Mei</div>
<div class="t" style="left:858.00px;top:1257.87px;font-size:18.48px;font-weight:400;color:#6b7280;letter-spacing:0.000px;">Jun</div>
<svg class="ch" width="1544" height="2048" viewBox="0 0 1544 2048" style="left:0;top:0">
<g stroke="#e5e7eb" stroke-width="1.1" stroke-dasharray="3.3 3.3"><line x1="1035.3" y1="973.30" x2="1477" y2="973.30" /><line x1="1035.3" y1="1036.60" x2="1477" y2="1036.60" /><line x1="1035.3" y1="1099.90" x2="1477" y2="1099.90" /><line x1="1035.3" y1="1163.20" x2="1477" y2="1163.20" /><line x1="1035.3" y1="1226.50" x2="1477" y2="1226.50" /><line x1="1066.85" y1="973.3" x2="1066.85" y2="1226.5" /><line x1="1129.95" y1="973.3" x2="1129.95" y2="1226.5" /><line x1="1193.05" y1="973.3" x2="1193.05" y2="1226.5" /><line x1="1256.15" y1="973.3" x2="1256.15" y2="1226.5" /><line x1="1319.25" y1="973.3" x2="1319.25" y2="1226.5" /><line x1="1382.35" y1="973.3" x2="1382.35" y2="1226.5" /><line x1="1445.45" y1="973.3" x2="1445.45" y2="1226.5" /><line x1="1477" y1="973.3" x2="1477" y2="1226.5" /></g>
<path d="M1042.30,1226.5V1083.38A8.8,8.8 0 0 1 1051.10,1074.58H1055.80A8.8,8.8 0 0 1 1064.60,1083.38V1226.5Z" fill="#22c55e"/><path d="M1069.10,1226.5V1134.02A8.8,8.8 0 0 1 1077.90,1125.22H1082.60A8.8,8.8 0 0 1 1091.40,1134.02V1226.5Z" fill="#f97316"/><path d="M1105.40,1226.5V1045.40A8.8,8.8 0 0 1 1114.20,1036.60H1118.90A8.8,8.8 0 0 1 1127.70,1045.40V1226.5Z" fill="#22c55e"/><path d="M1132.20,1226.5V1108.70A8.8,8.8 0 0 1 1141.00,1099.90H1145.70A8.8,8.8 0 0 1 1154.50,1108.70V1226.5Z" fill="#f97316"/><path d="M1168.50,1226.5V1108.70A8.8,8.8 0 0 1 1177.30,1099.90H1182.00A8.8,8.8 0 0 1 1190.80,1108.70V1226.5Z" fill="#22c55e"/><path d="M1195.30,1226.5V1083.38A8.8,8.8 0 0 1 1204.10,1074.58H1208.80A8.8,8.8 0 0 1 1217.60,1083.38V1226.5Z" fill="#f97316"/><path d="M1231.60,1226.5V1007.42A8.8,8.8 0 0 1 1240.40,998.62H1245.10A8.8,8.8 0 0 1 1253.90,1007.42V1226.5Z" fill="#22c55e"/><path d="M1258.40,1226.5V1146.68A8.8,8.8 0 0 1 1267.20,1137.88H1271.90A8.8,8.8 0 0 1 1280.70,1146.68V1226.5Z" fill="#f97316"/><path d="M1294.70,1226.5V982.10A8.8,8.8 0 0 1 1303.50,973.30H1308.20A8.8,8.8 0 0 1 1317.00,982.10V1226.5Z" fill="#22c55e"/><path d="M1321.50,1226.5V1172.00A8.8,8.8 0 0 1 1330.30,1163.20H1335.00A8.8,8.8 0 0 1 1343.80,1172.00V1226.5Z" fill="#f97316"/><path d="M1357.80,1226.5V1134.02A8.8,8.8 0 0 1 1366.60,1125.22H1371.30A8.8,8.8 0 0 1 1380.10,1134.02V1226.5Z" fill="#22c55e"/><path d="M1384.60,1226.5V1197.32A8.8,8.8 0 0 1 1393.40,1188.52H1398.10A8.8,8.8 0 0 1 1406.90,1197.32V1226.5Z" fill="#f97316"/><path d="M1420.90,1226.5V1159.34A8.8,8.8 0 0 1 1429.70,1150.54H1434.40A8.8,8.8 0 0 1 1443.20,1159.34V1226.5Z" fill="#22c55e"/><path d="M1447.70,1226.5V1209.98A8.8,8.8 0 0 1 1456.50,1201.18H1461.20A8.8,8.8 0 0 1 1470.00,1209.98V1226.5Z" fill="#f97316"/>
<g stroke="#6b7280" stroke-width="1.2"><line x1="1035.3" y1="973.3" x2="1035.3" y2="1226.5"/><line x1="1035.3" y1="1226.5" x2="1477" y2="1226.5"/><line x1="1029.0" y1="973.30" x2="1035.3" y2="973.30"/><line x1="1029.0" y1="1036.60" x2="1035.3" y2="1036.60"/><line x1="1029.0" y1="1099.90" x2="1035.3" y2="1099.90"/><line x1="1029.0" y1="1163.20" x2="1035.3" y2="1163.20"/><line x1="1029.0" y1="1226.50" x2="1035.3" y2="1226.50"/><line x1="1066.85" y1="1226.5" x2="1066.85" y2="1232.8"/><line x1="1129.95" y1="1226.5" x2="1129.95" y2="1232.8"/><line x1="1193.05" y1="1226.5" x2="1193.05" y2="1232.8"/><line x1="1256.15" y1="1226.5" x2="1256.15" y2="1232.8"/><line x1="1319.25" y1="1226.5" x2="1319.25" y2="1232.8"/><line x1="1382.35" y1="1226.5" x2="1382.35" y2="1232.8"/><line x1="1445.45" y1="1226.5" x2="1445.45" y2="1232.8"/></g>
</svg>
<div class="t" style="left:1006.68px;top:971.07px;font-size:18.48px;font-weight:400;color:#6b7280;letter-spacing:0.000px;">20</div>
<div class="t" style="left:1006.73px;top:1027.37px;font-size:18.48px;font-weight:400;color:#6b7280;letter-spacing:0.000px;">15</div>
<div class="t" style="left:1006.68px;top:1090.67px;font-size:18.48px;font-weight:400;color:#6b7280;letter-spacing:0.000px;">10</div>
<div class="t" style="left:1016.98px;top:1153.97px;font-size:18.48px;font-weight:400;color:#6b7280;letter-spacing:0.000px;">5</div>
<div class="t" style="left:1016.94px;top:1217.27px;font-size:18.48px;font-weight:400;color:#6b7280;letter-spacing:0.000px;">0</div>
<div class="t" style="left:1050.59px;top:1232.07px;font-size:18.48px;font-weight:400;color:#6b7280;letter-spacing:0.000px;">Sen</div>
<div class="t" style="left:1116.81px;top:1232.07px;font-size:18.48px;font-weight:400;color:#6b7280;letter-spacing:0.000px;">Sel</div>
<div class="t" style="left:1175.72px;top:1232.07px;font-size:18.48px;font-weight:400;color:#6b7280;letter-spacing:0.000px;">Rab</div>
<div class="t" style="left:1237.00px;top:1232.07px;font-size:18.48px;font-weight:400;color:#6b7280;letter-spacing:0.000px;">Kam</div>
<div class="t" style="left:1302.27px;top:1232.07px;font-size:18.48px;font-weight:400;color:#6b7280;letter-spacing:0.000px;">Jum</div>
<div class="t" style="left:1365.88px;top:1232.07px;font-size:18.48px;font-weight:400;color:#6b7280;letter-spacing:0.000px;">Sab</div>
<div class="t" style="left:1430.39px;top:1232.07px;font-size:18.48px;font-weight:400;color:#6b7280;letter-spacing:0.000px;">Min</div>
<div class="r" style="left:1112.00px;top:1267.20px;width:15.40px;height:11.50px;background:#22c55e;"></div>
<div class="t" style="left:1130.81px;top:1262.07px;font-size:18.48px;font-weight:400;color:#22c55e;letter-spacing:1.163px;">completed</div>
<div class="r" style="left:1236.20px;top:1267.20px;width:15.40px;height:11.50px;background:#f97316;"></div>
<div class="t" style="left:1254.41px;top:1262.07px;font-size:18.48px;font-weight:400;color:#f97316;letter-spacing:1.100px;">ongoing</div>
<div class="r" style="left:343.00px;top:1342.00px;width:769.00px;height:672.00px;background:#fdfdfe;border:1px solid #dfe2e7;border-radius:17.6px;box-shadow:0 6px 22px 2px rgba(17,24,39,0.055),0 2px 6px rgba(17,24,39,0.03);box-sizing:border-box;"></div>
<div class="t" style="left:369.88px;top:1373.74px;font-size:20.79px;font-weight:700;color:#111827;letter-spacing:0.286px;">Aktivitas Terbaru</div>
<svg class="ic" style="left:1064.00px;top:1373.30px" width="22.00" height="22.00" viewBox="0 0 24 24" fill="none" stroke="#b91c1c" stroke-width="2" stroke-linecap="round" stroke-linejoin="round"><circle cx="12" cy="12" r="10"/><polyline points="12 6 12 12 16 14"/></svg>
<div class="r" style="left:369.80px;top:1425.30px;width:715.70px;height:98.20px;background:#f9fafb;border-radius:13px;"></div>
<div class="r" style="left:387.30px;top:1442.30px;width:42.70px;height:42.70px;background:#dcf3ef;border-radius:50%;"></div>
<svg class="ic" style="left:397.65px;top:1452.65px" width="22.00" height="22.00" viewBox="0 0 24 24" fill="none" stroke="#16a34a" stroke-width="2" stroke-linecap="round" stroke-linejoin="round"><path d="M21.801 10A10 10 0 1 1 17 3.335"/><path d="m9 11 3 3L22 4"/></svg>
<div class="t" style="left:447.00px;top:1444.90px;font-size:16.17px;letter-spacing:0.282px"><span style="font-weight:700;color:#111827;">Ahmad Fauzi</span><span style="font-weight:400;color:#111827;-webkit-text-stroke:0.3px currentColor;"> menyelesaikan kelas</span></div>
<div class="t" style="left:447.32px;top:1466.20px;font-size:16.17px;font-weight:400;color:#4b5563;letter-spacing:0.378px;">Web Development</div>
<div class="t" style="left:446.71px;top:1490.93px;font-size:13.86px;font-weight:400;color:#6b7280;letter-spacing:0.385px;">2 menit lalu</div>
<div class="r" style="left:369.80px;top:1541.10px;width:715.70px;height:98.20px;background:#f9fafb;border-radius:13px;"></div>
<div class="r" style="left:387.30px;top:1558.10px;width:42.70px;height:42.70px;background:#dcf3f3;border-radius:50%;"></div>
<svg class="ic" style="left:397.65px;top:1568.45px" width="22.00" height="22.00" viewBox="0 0 24 24" fill="none" stroke="#2563eb" stroke-width="2" stroke-linecap="round" stroke-linejoin="round"><circle cx="12" cy="12" r="10"/><line x1="12" x2="12" y1="8" y2="12"/><line x1="12" x2="12.01" y1="16" y2="16"/></svg>
<div class="t" style="left:446.96px;top:1560.70px;font-size:16.17px;letter-spacing:0.324px"><span style="font-weight:700;color:#111827;">Siti Nurhaliza</span><span style="font-weight:400;color:#111827;-webkit-text-stroke:0.3px currentColor;"> mendaftar kelas baru</span></div>
<div class="t" style="left:446.15px;top:1582.00px;font-size:16.17px;font-weight:400;color:#4b5563;letter-spacing:-0.062px;">UI/UX Design</div>
<div class="t" style="left:446.36px;top:1606.73px;font-size:13.86px;font-weight:400;color:#6b7280;letter-spacing:0.230px;">15 menit lalu</div>
<div class="r" style="left:369.80px;top:1656.90px;width:715.70px;height:98.20px;background:#f9fafb;border-radius:13px;"></div>
<div class="r" style="left:387.30px;top:1673.90px;width:42.70px;height:42.70px;background:#ffedd5;border-radius:50%;"></div>
<svg class="ic" style="left:397.65px;top:1684.25px" width="22.00" height="22.00" viewBox="0 0 24 24" fill="none" stroke="#ea580c" stroke-width="2" stroke-linecap="round" stroke-linejoin="round"><circle cx="12" cy="12" r="10"/><polyline points="12 6 12 12 16 14"/></svg>
<div class="t" style="left:446.31px;top:1676.50px;font-size:16.17px;letter-spacing:0.391px"><span style="font-weight:700;color:#111827;">Budi Santoso</span><span style="font-weight:400;color:#111827;-webkit-text-stroke:0.3px currentColor;"> mengumpulkan tugas</span></div>
<div class="t" style="left:446.07px;top:1697.80px;font-size:16.17px;font-weight:400;color:#4b5563;letter-spacing:0.485px;">Mobile App Development</div>
<div class="t" style="left:446.36px;top:1722.53px;font-size:13.86px;font-weight:400;color:#6b7280;letter-spacing:0.191px;">1 jam lalu</div>
<div class="r" style="left:369.80px;top:1772.70px;width:715.70px;height:98.20px;background:#f9fafb;border-radius:13px;"></div>
<div class="r" style="left:387.30px;top:1789.70px;width:42.70px;height:42.70px;background:#dcf3f3;border-radius:50%;"></div>
<svg class="ic" style="left:397.65px;top:1800.05px" width="22.00" height="22.00" viewBox="0 0 24 24" fill="none" stroke="#2563eb" stroke-width="2" stroke-linecap="round" stroke-linejoin="round"><circle cx="12" cy="12" r="10"/><line x1="12" x2="12" y1="8" y2="12"/><line x1="12" x2="12.01" y1="16" y2="16"/></svg>
<div class="t" style="left:446.31px;top:1792.30px;font-size:16.17px;letter-spacing:0.284px"><span style="font-weight:700;color:#111827;">Rina Kartika</span><span style="font-weight:400;color:#111827;-webkit-text-stroke:0.3px currentColor;"> mengikuti quiz</span></div>
<div class="t" style="left:446.07px;top:1813.60px;font-size:16.17px;font-weight:400;color:#4b5563;letter-spacing:0.450px;">Data Science</div>
<div class="t" style="left:446.71px;top:1838.33px;font-size:13.86px;font-weight:400;color:#6b7280;letter-spacing:0.553px;">2 jam lalu</div>
<div class="r" style="left:369.80px;top:1888.50px;width:715.70px;height:98.20px;background:#f9fafb;border-radius:13px;"></div>
<div class="r" style="left:387.30px;top:1905.50px;width:42.70px;height:42.70px;background:#dcf3ef;border-radius:50%;"></div>
<svg class="ic" style="left:397.65px;top:1915.85px" width="22.00" height="22.00" viewBox="0 0 24 24" fill="none" stroke="#16a34a" stroke-width="2" stroke-linecap="round" stroke-linejoin="round"><path d="M21.801 10A10 10 0 1 1 17 3.335"/><path d="m9 11 3 3L22 4"/></svg>
<div class="t" style="left:446.31px;top:1908.10px;font-size:16.17px;letter-spacing:0.429px"><span style="font-weight:700;color:#111827;">Dedi Kusuma</span><span style="font-weight:400;color:#111827;-webkit-text-stroke:0.3px currentColor;"> menyelesaikan modul</span></div>
<div class="t" style="left:446.07px;top:1929.40px;font-size:16.17px;font-weight:400;color:#4b5563;letter-spacing:0.451px;">Digital Marketing</div>
<div class="t" style="left:446.88px;top:1954.13px;font-size:13.86px;font-weight:400;color:#6b7280;letter-spacing:0.533px;">3 jam lalu</div>
<div class="r" style="left:1138.00px;top:1342.00px;width:372.00px;height:672.00px;background:#fdfdfe;border:1px solid #dfe2e7;border-radius:17.6px;box-shadow:0 6px 22px 2px rgba(17,24,39,0.055),0 2px 6px rgba(17,24,39,0.03);box-sizing:border-box;"></div>
<div class="t" style="left:1164.00px;top:1373.74px;font-size:20.79px;font-weight:700;color:#111827;letter-spacing:-0.230px;">Kelas Populer</div>
<svg class="ic" style="left:1461.20px;top:1373.30px" width="22.00" height="22.00" viewBox="0 0 24 24" fill="none" stroke="#b91c1c" stroke-width="2" stroke-linecap="round" stroke-linejoin="round"><circle cx="12" cy="8" r="6"/><path d="M15.477 12.89 17 22l-5-3-5 3 1.523-9.11"/></svg>
<div class="r" style="left:1165.40px;top:1425.20px;width:317.40px;height:123.50px;background:#f9fafb;border-radius:13px;"></div>
<div class="t" style="left:1182.40px;top:1446.30px;font-size:16.17px;font-weight:700;color:#111827;letter-spacing:0.044px;">Web Development Bootcamp</div>
<div class="r" style="left:1412.30px;top:1442.20px;width:53.50px;height:25.70px;background:#fce7e7;border-radius:13px;"></div>
<svg class="ic" style="left:1420.3px;top:1447.80px" width="14" height="14" viewBox="0 0 24 24"><defs><linearGradient id="sg0" x1="0" y1="0" x2="0" y2="1"><stop offset="0" stop-color="#fff4dc"/><stop offset="0.56" stop-color="#ffefcf"/><stop offset="0.6" stop-color="#e9ae12"/><stop offset="1" stop-color="#e9ae12"/></linearGradient></defs><polygon points="12 2 15.09 8.26 22 9.27 17 14.14 18.18 21.02 12 17.77 5.82 21.02 7 14.14 2 9.27 8.91 8.26 12 2" fill="url(#sg0)" stroke="#f3a03a" stroke-width="1.6" stroke-linejoin="round"/></svg>
<div class="t" style="left:1436.60px;top:1448.25px;font-size:13.23px;font-weight:700;color:#b91c1c;letter-spacing:0.953px;">4.8</div>
<svg class="ic" style="left:1182.20px;top:1478.90px" width="13.20" height="13.20" viewBox="0 0 24 24" fill="none" stroke="#4b5563" stroke-width="2" stroke-linecap="round" stroke-linejoin="round"><path d="M16 21v-2a4 4 0 0 0-4-4H6a4 4 0 0 0-4 4v2"/><circle cx="9" cy="7" r="4"/><path d="M22 21v-2a4 4 0 0 0-3-3.87"/><path d="M16 3.13a4 4 0 0 1 0 7.75"/></svg>
<div class="t" style="left:1203.66px;top:1477.36px;font-size:15.02px;font-weight:400;color:#4b5563;letter-spacing:-0.252px;">45 peserta</div>
<div class="r" style="left:1182.40px;top:1507.20px;width:283.40px;height:4.40px;background:#e5e7eb;border-radius:3px;"></div>
<div class="r" style="left:1182.40px;top:1507.20px;width:240.89px;height:4.40px;background:linear-gradient(90deg,#b91c1c,#991b1b);border-radius:3px;"></div>
<div class="t" style="left:1391.51px;top:1516.83px;font-size:13.86px;font-weight:400;color:#6b7280;letter-spacing:0.048px;">85% selesai</div>
<div class="r" style="left:1165.40px;top:1566.70px;width:317.40px;height:123.50px;background:#f9fafb;border-radius:13px;"></div>
<div class="t" style="left:1181.43px;top:1587.80px;font-size:16.17px;font-weight:700;color:#111827;letter-spacing:-0.134px;">UI/UX Design Masterclass</div>
<div class="r" style="left:1412.30px;top:1583.70px;width:53.50px;height:25.70px;background:#fce7e7;border-radius:13px;"></div>
<svg class="ic" style="left:1420.3px;top:1589.30px" width="14" height="14" viewBox="0 0 24 24"><defs><linearGradient id="sg1" x1="0" y1="0" x2="0" y2="1"><stop offset="0" stop-color="#fff4dc"/><stop offset="0.56" stop-color="#ffefcf"/><stop offset="0.6" stop-color="#e9ae12"/><stop offset="1" stop-color="#e9ae12"/></linearGradient></defs><polygon points="12 2 15.09 8.26 22 9.27 17 14.14 18.18 21.02 12 17.77 5.82 21.02 7 14.14 2 9.27 8.91 8.26 12 2" fill="url(#sg1)" stroke="#f3a03a" stroke-width="1.6" stroke-linejoin="round"/></svg>
<div class="t" style="left:1436.60px;top:1589.75px;font-size:13.23px;font-weight:700;color:#b91c1c;letter-spacing:0.986px;">4.9</div>
<svg class="ic" style="left:1182.20px;top:1620.40px" width="13.20" height="13.20" viewBox="0 0 24 24" fill="none" stroke="#4b5563" stroke-width="2" stroke-linecap="round" stroke-linejoin="round"><path d="M16 21v-2a4 4 0 0 0-4-4H6a4 4 0 0 0-4 4v2"/><circle cx="9" cy="7" r="4"/><path d="M22 21v-2a4 4 0 0 0-3-3.87"/><path d="M16 3.13a4 4 0 0 1 0 7.75"/></svg>
<div class="t" style="left:1203.44px;top:1618.86px;font-size:15.02px;font-weight:400;color:#4b5563;letter-spacing:-0.227px;">35 peserta</div>
<div class="r" style="left:1182.40px;top:1648.70px;width:283.40px;height:4.40px;background:#e5e7eb;border-radius:3px;"></div>
<div class="r" style="left:1182.40px;top:1648.70px;width:221.05px;height:4.40px;background:linear-gradient(90deg,#b91c1c,#991b1b);border-radius:3px;"></div>
<div class="t" style="left:1391.41px;top:1658.33px;font-size:13.86px;font-weight:400;color:#6b7280;letter-spacing:0.059px;">78% selesai</div>
<div class="r" style="left:1165.40px;top:1708.20px;width:317.40px;height:123.50px;background:#f9fafb;border-radius:13px;"></div>
<div class="t" style="left:1181.31px;top:1729.30px;font-size:16.17px;font-weight:700;color:#111827;letter-spacing:-0.004px;">Mobile App Development</div>
<div class="r" style="left:1412.30px;top:1725.20px;width:53.50px;height:25.70px;background:#fce7e7;border-radius:13px;"></div>
<svg class="ic" style="left:1420.3px;top:1730.80px" width="14" height="14" viewBox="0 0 24 24"><defs><linearGradient id="sg2" x1="0" y1="0" x2="0" y2="1"><stop offset="0" stop-color="#fff4dc"/><stop offset="0.56" stop-color="#ffefcf"/><stop offset="0.6" stop-color="#e9ae12"/><stop offset="1" stop-color="#e9ae12"/></linearGradient></defs><polygon points="12 2 15.09 8.26 22 9.27 17 14.14 18.18 21.02 12 17.77 5.82 21.02 7 14.14 2 9.27 8.91 8.26 12 2" fill="url(#sg2)" stroke="#f3a03a" stroke-width="1.6" stroke-linejoin="round"/></svg>
<div class="t" style="left:1436.60px;top:1731.25px;font-size:13.23px;font-weight:700;color:#b91c1c;letter-spacing:1.036px;">4.7</div>
<svg class="ic" style="left:1182.20px;top:1761.90px" width="13.20" height="13.20" viewBox="0 0 24 24" fill="none" stroke="#4b5563" stroke-width="2" stroke-linecap="round" stroke-linejoin="round"><path d="M16 21v-2a4 4 0 0 0-4-4H6a4 4 0 0 0-4 4v2"/><circle cx="9" cy="7" r="4"/><path d="M22 21v-2a4 4 0 0 0-3-3.87"/><path d="M16 3.13a4 4 0 0 1 0 7.75"/></svg>
<div class="t" style="left:1203.44px;top:1760.36px;font-size:15.02px;font-weight:400;color:#4b5563;letter-spacing:-0.227px;">30 peserta</div>
<div class="r" style="left:1182.40px;top:1790.20px;width:283.40px;height:4.40px;background:#e5e7eb;border-radius:3px;"></div>
<div class="r" style="left:1182.40px;top:1790.20px;width:260.73px;height:4.40px;background:linear-gradient(90deg,#b91c1c,#991b1b);border-radius:3px;"></div>
<div class="t" style="left:1391.48px;top:1799.83px;font-size:13.86px;font-weight:400;color:#6b7280;letter-spacing:0.052px;">92% selesai</div>
<div class="r" style="left:1165.40px;top:1849.70px;width:317.40px;height:123.50px;background:#f9fafb;border-radius:13px;"></div>
<div class="t" style="left:1181.31px;top:1870.80px;font-size:16.17px;font-weight:700;color:#111827;letter-spacing:-0.031px;">Data Science Foundation</div>
<div class="r" style="left:1412.30px;top:1866.70px;width:53.50px;height:25.70px;background:#fce7e7;border-radius:13px;"></div>
<svg class="ic" style="left:1420.3px;top:1872.30px" width="14" height="14" viewBox="0 0 24 24"><defs><linearGradient id="sg3" x1="0" y1="0" x2="0" y2="1"><stop offset="0" stop-color="#fff4dc"/><stop offset="0.56" stop-color="#ffefcf"/><stop offset="0.6" stop-color="#e9ae12"/><stop offset="1" stop-color="#e9ae12"/></linearGradient></defs><polygon points="12 2 15.09 8.26 22 9.27 17 14.14 18.18 21.02 12 17.77 5.82 21.02 7 14.14 2 9.27 8.91 8.26 12 2" fill="url(#sg3)" stroke="#f3a03a" stroke-width="1.6" stroke-linejoin="round"/></svg>
<div class="t" style="left:1436.60px;top:1872.75px;font-size:13.23px;font-weight:700;color:#b91c1c;letter-spacing:0.986px;">4.6</div>
<svg class="ic" style="left:1182.20px;top:1903.40px" width="13.20" height="13.20" viewBox="0 0 24 24" fill="none" stroke="#4b5563" stroke-width="2" stroke-linecap="round" stroke-linejoin="round"><path d="M16 21v-2a4 4 0 0 0-4-4H6a4 4 0 0 0-4 4v2"/><circle cx="9" cy="7" r="4"/><path d="M22 21v-2a4 4 0 0 0-3-3.87"/><path d="M16 3.13a4 4 0 0 1 0 7.75"/></svg>
<div class="t" style="left:1203.25px;top:1901.86px;font-size:15.02px;font-weight:400;color:#4b5563;letter-spacing:-0.206px;">25 peserta</div>
<div class="r" style="left:1182.40px;top:1931.70px;width:283.40px;height:4.40px;background:#e5e7eb;border-radius:3px;"></div>
<div class="r" style="left:1182.40px;top:1931.70px;width:184.21px;height:4.40px;background:linear-gradient(90deg,#b91c1c,#991b1b);border-radius:3px;"></div>
<div class="t" style="left:1391.41px;top:1941.33px;font-size:13.86px;font-weight:400;color:#6b7280;letter-spacing:0.059px;">65% selesai</div></body></html>
